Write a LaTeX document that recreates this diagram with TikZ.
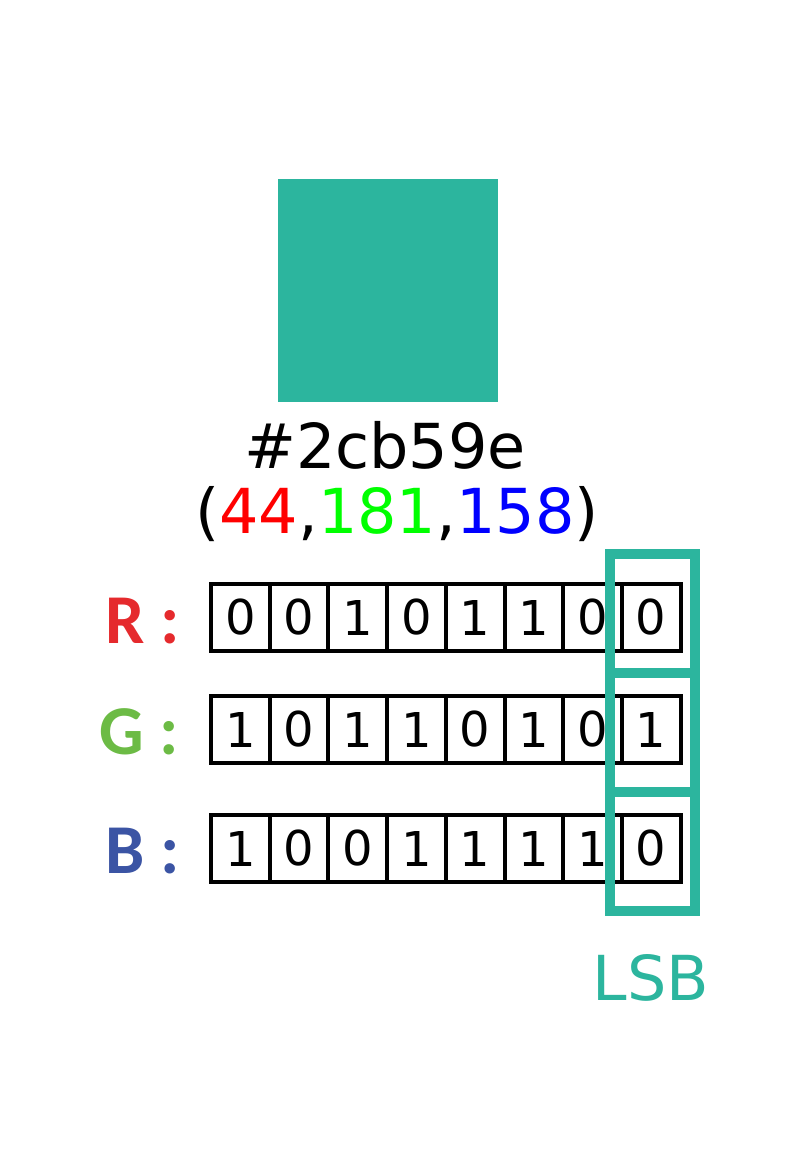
\documentclass[tikz,border=0pt]{standalone}
\usepackage{fontspec}
\setmainfont{DejaVu Sans}
\newfontfamily\chanfont{Carlito}
\usetikzlibrary{positioning}

\definecolor{swatchcol}{HTML}{2CB59E}
\definecolor{rcol}{HTML}{E52A2D}
\definecolor{gcol}{HTML}{6CBB45}
\definecolor{bcol}{HTML}{3B54A4}

\tikzset{
    bitcell/.style={draw, line width=4pt, minimum width=58.7pt, minimum height=67pt,
        inner sep=0pt, font=\fontsize{48}{48}\selectfont},
    chanlabel/.style={anchor=base west, inner sep=0pt, font=\chanfont\bfseries\fontsize{70}{70}\selectfont},
    lsbbox/.style={draw=swatchcol, line width=10pt, minimum width=84.5pt, minimum height=119pt, inner sep=0pt},
    bigtext/.style={anchor=base, inner sep=0pt, font=\fontsize{62}{62}\selectfont}
}

\begin{document}
\begin{tikzpicture}[x=1pt, y=-1pt]
            %\draw[lightgray] (0, 0) grid[step=50] (797, 1167);
            \useasboundingbox (0, 0) rectangle (797, 1167);
            \node[fill=swatchcol, minimum width=220pt, minimum height=223pt, inner sep=0pt] (swatch) at (388, 290.5) {};
            \node[bigtext] (hex) at (385, 468) {\#2cb59e};
            \node[bigtext] (rgb) at (397, 533) {(\textcolor{red}{44},\textcolor{green}{181},\textcolor{blue}{158})};

            \foreach \ch/\y/\bits in {r/617.5/{0,0,1,0,1,1,0,0}, g/729.5/{1,0,1,1,0,1,0,1}, b/848.5/{1,0,0,1,1,1,1,0}}
                \foreach \b [count=\i] in \bits
                    \node[bitcell] (\ch\i) at ({211 + 58.7*(\i - 0.5)}, \y) {\b};

            \node[chanlabel, text=rcol] (rlabel) at (105, 643) {R\hspace{16pt}:};
            \node[chanlabel, text=gcol] (glabel) at (99, 754) {G\hspace{16pt}:};
            \node[chanlabel, text=bcol] (blabel) at (105, 873) {B\hspace{16pt}:};

            \node[lsbbox] (lsbr) at (652.25, 613.5) {};
            \node[lsbbox] (lsbg) at (652.25, 732.5) {};
            \node[lsbbox] (lsbb) at (652.25, 851.5) {};
            \node[bigtext, text=swatchcol] (lsb) at (651, 1000) {LSB};
        \end{tikzpicture}
\end{document}
